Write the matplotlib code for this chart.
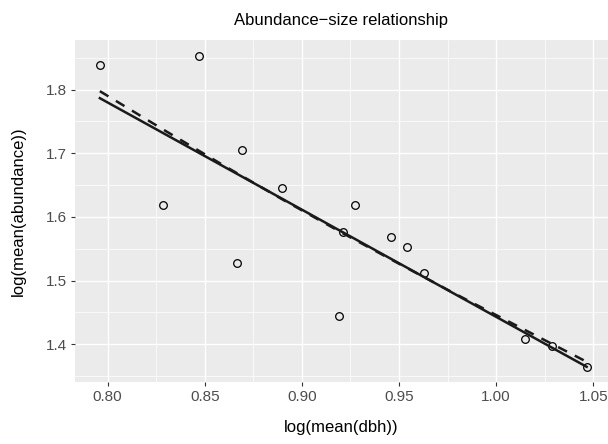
import numpy as np
import matplotlib
matplotlib.use("Agg")
import matplotlib.pyplot as plt
from matplotlib.ticker import MultipleLocator

# data
log_dbh = [0.7960, 0.8470, 0.8283, 0.8691, 0.8899, 0.9275, 0.8667, 0.9213,
           0.9459, 0.9539, 0.9628, 0.9189, 1.0148, 1.0286, 1.0466]
log_abund = [1.838, 1.8536, 1.6184, 1.7049, 1.6451, 1.6184, 1.5282, 1.576,
             1.568, 1.5533, 1.5115, 1.4443, 1.4087, 1.3972, 1.3646]

# solid fit (straight line, end points)
fit_x = [0.7960, 1.0466]
fit_solid = [1.7866, 1.3646]

# dashed fit (slightly curved, read at several x)
dash_x = [0.796, 0.83, 0.86, 0.89, 0.92, 0.95, 0.98, 1.01, 1.0466]
dash_y = [1.7976, 1.7348, 1.6804, 1.6275, 1.5762, 1.5265, 1.4775, 1.4301, 1.3725]

plt.rcParams['font.family'] = ['Liberation Sans', 'DejaVu Sans']

fig = plt.figure(figsize=(6.08, 4.44), dpi=100)
ax = fig.add_axes([75/608, 1-382/444, 1-75/608, (382-40)/444])
ax.set_facecolor('#EBEBEB')
for s in ax.spines.values():
    s.set_visible(False)

ax.set_xlim(0.7832, 1.0576)
ax.set_ylim(1.3407, 1.878)
ax.xaxis.set_minor_locator(MultipleLocator(0.025))
ax.yaxis.set_minor_locator(MultipleLocator(0.05))
ax.set_xticks([0.80, 0.85, 0.90, 0.95, 1.00, 1.05])
ax.set_xticklabels(['0.80', '0.85', '0.90', '0.95', '1.00', '1.05'])
ax.set_yticks([1.4, 1.5, 1.6, 1.7, 1.8])
ax.set_yticklabels(['1.4', '1.5', '1.6', '1.7', '1.8'])

ax.grid(which='major', color='white', linewidth=1.0)
ax.grid(which='minor', color='white', linewidth=0.5)
ax.set_axisbelow(True)
ax.tick_params(which='major', length=3, width=0.8, color='#333333',
               labelcolor='#4D4D4D', labelsize=11, pad=3)
ax.tick_params(which='minor', length=0)

ax.plot(log_dbh, log_abund, 'o', mfc='none', mec='black', ms=5.5, mew=0.9,
        zorder=3)
ax.plot(fit_x, fit_solid, color='#1a1a1a', lw=1.8, zorder=4)
ax.plot(dash_x, dash_y, color='#1a1a1a', lw=1.8, dashes=(4, 3.5),
        zorder=4)

ax.set_title('Abundance\u2212size relationship', fontsize=12, pad=11)
ax.set_xlabel('log(mean(dbh))', fontsize=12, labelpad=11)
ax.set_ylabel('log(mean(abundance))', fontsize=12, labelpad=14)

fig.savefig('out.png', dpi=100)
